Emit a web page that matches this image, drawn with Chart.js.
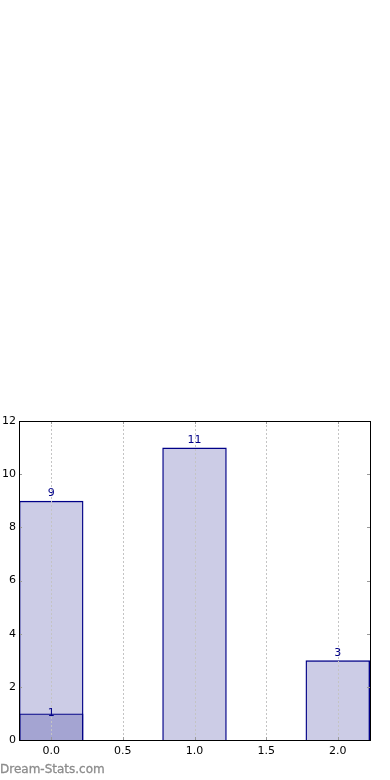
<!DOCTYPE html>
<html>
<head>
<meta charset="utf-8">
<script src="https://cdn.jsdelivr.net/npm/chart.js@4/dist/chart.umd.min.js"></script>
<style>
  html, body { margin: 0; padding: 0; background: #fff; }
  #wrap { position: relative; width: 390px; height: 780px; }
  #brand {
    position: absolute; left: 0; top: 762px;
    font: 12px "DejaVu Sans", sans-serif; color: #8c8c8c;
    -webkit-text-stroke: 0.3px #8c8c8c;
  }
</style>
</head>
<body>
<div id="wrap">
  <canvas id="chart" width="390" height="780"></canvas>
  <div id="brand">Dream-Stats.com</div>
</div>
<script>
// ===============================
// DATA
// ===============================
const positions = [0, 1, 2];
const totals = [9, 11, 3];
const highlightPos = [0];
const highlight = [1];
const xTicks = [0, 0.5, 1, 1.5, 2];
const yTicks = [0, 2, 4, 6, 8, 10, 12];

const FONT = "'DejaVu Sans', sans-serif";
const NAVY = "#000088";

// ===============================
// PLUGINS
// ===============================
const framePlugin = {
  id: "frame",
  afterDatasetsDraw(chart) {
    const { ctx, chartArea: a, scales } = chart;
    ctx.save();
    // dotted grid drawn over the bars
    ctx.strokeStyle = "#c4c4c4";
    ctx.setLineDash([2, 2]);
    ctx.beginPath();
    xTicks.forEach((t) => {
      const x = Math.round(scales.x.getPixelForValue(t)) + 0.5;
      ctx.moveTo(x, a.top); ctx.lineTo(x, a.bottom);
    });
    ctx.stroke();
    ctx.setLineDash([]);
    // tick marks inside the frame
    ctx.strokeStyle = "#999";
    ctx.lineWidth = 1;
    ctx.beginPath();
    xTicks.forEach((t) => {
      const x = Math.round(scales.x.getPixelForValue(t)) + 0.5;
      ctx.moveTo(x, a.bottom); ctx.lineTo(x, a.bottom - 3);
      ctx.moveTo(x, a.top); ctx.lineTo(x, a.top + 3);
    });
    yTicks.forEach((t) => {
      const y = Math.round(scales.y.getPixelForValue(t)) + 0.5;
      ctx.moveTo(a.left, y); ctx.lineTo(a.left + 3, y);
      ctx.moveTo(a.right, y); ctx.lineTo(a.right - 3, y);
    });
    ctx.stroke();
    // black frame
    ctx.strokeStyle = "#000";
    ctx.strokeRect(Math.round(a.left) + 0.5, Math.round(a.top) + 0.5,
      Math.round(a.right - a.left), Math.round(a.bottom - a.top));
    // value labels
    ctx.fillStyle = NAVY;
    ctx.font = "11px " + FONT;
    ctx.textAlign = "center";
    chart.data.datasets.forEach((ds, i) => {
      const meta = chart.getDatasetMeta(i);
      meta.data.forEach((bar, j) => {
        const v = ds.data[j].y;
        if (i === 0) {
          ctx.textBaseline = "bottom";
          ctx.fillText(v, bar.x, bar.y - 2);
        } else {
          ctx.textBaseline = "middle";
          ctx.fillText(v, bar.x, bar.y);
        }
      });
    });
    ctx.restore();
  },
};

// ===============================
// CHART
// ===============================
new Chart(document.getElementById("chart"), {
  type: "bar",
  data: {
    datasets: [
      {
        data: positions.map((p, i) => ({ x: p, y: totals[i] })),
        backgroundColor: "rgba(0,0,128,0.2)",
        borderColor: NAVY,
        borderWidth: 1.4,
        grouped: false,
        categoryPercentage: 1,
        barPercentage: 0.9,
      },
      {
        data: highlightPos.map((p, i) => ({ x: p, y: highlight[i] })),
        backgroundColor: "rgba(0,0,128,0.2)",
        borderColor: NAVY,
        borderWidth: 1.4,
        grouped: false,
        categoryPercentage: 1,
        barPercentage: 0.9,
      },
    ],
  },
  plugins: [framePlugin],
  options: {
    responsive: false,
    animation: false,
    layout: { padding: { top: 421, right: 20, left: 0, bottom: 0 } },
    plugins: { legend: { display: false }, tooltip: { enabled: false } },
    scales: {
      x: {
        type: "linear",
        min: -0.225,
        max: 2.225,
        offset: false,
        afterBuildTicks: (s) => { s.ticks = xTicks.map((v) => ({ value: v })); },
        afterFit: (s) => { s.height = 40; },
        ticks: {
          color: "#000",
          font: { family: FONT, size: 11 },
          padding: 5,
          maxRotation: 0,
          callback: (v) => Number(v).toFixed(1),
        },
        grid: { display: false, drawTicks: false },
        border: { display: false },
      },
      y: {
        min: 0,
        max: 12,
        afterBuildTicks: (s) => { s.ticks = yTicks.map((v) => ({ value: v })); },
        afterFit: (s) => { s.width = 19; },
        ticks: {
          color: "#000",
          font: { family: FONT, size: 11 },
          padding: 3,
        },
        grid: { display: false, drawTicks: false },
        border: { display: false },
      },
    },
  },
});
</script>
</body>
</html>
